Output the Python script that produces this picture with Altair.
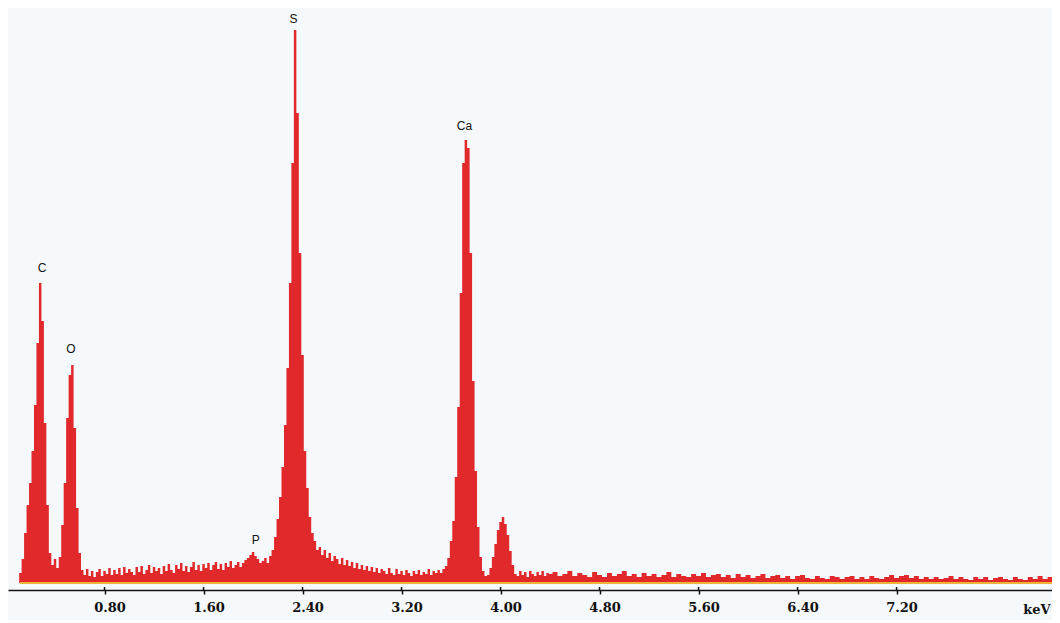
import altair as alt
import pandas as pd

# ---- spectrum data (keV, counts) ----
energy_kev = [
    0.10, 0.12, 0.14, 0.16, 0.18, 0.20, 0.22, 0.24, 0.26, 0.28,
    0.30, 0.32, 0.34, 0.36, 0.38, 0.40, 0.42, 0.44, 0.46, 0.48,
    0.50, 0.52, 0.54, 0.56, 0.58, 0.60, 0.62, 0.64, 0.66, 0.68,
    0.70, 0.72, 0.74, 0.76, 0.78, 0.80, 0.82, 0.84, 0.86, 0.88,
    0.90, 0.92, 0.94, 0.96, 0.98, 1.00, 1.02, 1.04, 1.06, 1.08,
    1.10, 1.12, 1.14, 1.16, 1.18, 1.20, 1.22, 1.24, 1.26, 1.28,
    1.30, 1.32, 1.34, 1.36, 1.38, 1.40, 1.42, 1.44, 1.46, 1.48,
    1.50, 1.52, 1.54, 1.56, 1.58, 1.60, 1.62, 1.64, 1.66, 1.68,
    1.70, 1.72, 1.74, 1.76, 1.78, 1.80, 1.82, 1.84, 1.86, 1.88,
    1.90, 1.92, 1.94, 1.96, 1.98, 2.00, 2.02, 2.04, 2.06, 2.08,
    2.10, 2.12, 2.14, 2.16, 2.18, 2.20, 2.22, 2.24, 2.26, 2.28,
    2.30, 2.32, 2.34, 2.36, 2.38, 2.40, 2.42, 2.44, 2.46, 2.48,
    2.50, 2.52, 2.54, 2.56, 2.58, 2.60, 2.62, 2.64, 2.66, 2.68,
    2.70, 2.72, 2.74, 2.76, 2.78, 2.80, 2.82, 2.84, 2.86, 2.88,
    2.90, 2.92, 2.94, 2.96, 2.98, 3.00, 3.02, 3.04, 3.06, 3.08,
    3.10, 3.12, 3.14, 3.16, 3.18, 3.20, 3.22, 3.24, 3.26, 3.28,
    3.30, 3.32, 3.34, 3.36, 3.38, 3.40, 3.42, 3.44, 3.46, 3.48,
    3.50, 3.52, 3.54, 3.56, 3.58, 3.60, 3.62, 3.64, 3.66, 3.68,
    3.70, 3.72, 3.74, 3.76, 3.78, 3.80, 3.82, 3.84, 3.86, 3.88,
    3.90, 3.92, 3.94, 3.96, 3.98, 4.00, 4.02, 4.04, 4.06, 4.08,
    4.10, 4.12, 4.14, 4.16, 4.18, 4.20, 4.22, 4.24, 4.26, 4.28,
    4.30, 4.32, 4.34, 4.36, 4.38, 4.40,
    4.44, 4.48, 4.52, 4.56, 4.60, 4.64, 4.68, 4.72, 4.76, 4.80,
    4.84, 4.88, 4.92, 4.96, 5.00, 5.04, 5.08, 5.12, 5.16, 5.20,
    5.24, 5.28, 5.32, 5.36, 5.40, 5.44, 5.48, 5.52, 5.56, 5.60,
    5.64, 5.68, 5.72, 5.76, 5.80, 5.84, 5.88, 5.92, 5.96, 6.00,
    6.04, 6.08, 6.12, 6.16, 6.20, 6.24, 6.28, 6.32, 6.36, 6.40,
    6.44, 6.48, 6.52, 6.56, 6.60, 6.64, 6.68, 6.72, 6.76, 6.80,
    6.84, 6.88, 6.92, 6.96, 7.00, 7.04, 7.08, 7.12, 7.16, 7.20,
    7.24, 7.28, 7.32, 7.36, 7.40, 7.44, 7.48, 7.52, 7.56, 7.60,
    7.64, 7.68, 7.72, 7.76, 7.80, 7.84, 7.88, 7.92, 7.96, 8.00,
    8.04, 8.08, 8.12, 8.16, 8.20, 8.24, 8.28, 8.32, 8.36, 8.40,
    8.44, 8.48,
]

counts = [
    0, 10, 24, 50, 78, 100, 132, 178, 240, 300,
    262, 160, 78, 30, 18, 24, 15, 26, 58, 100,
    165, 208, 218, 155, 75, 30, 13, 8, 14, 7,
    12, 6, 11, 14, 7, 12, 9, 15, 8, 13,
    9, 15, 8, 16, 10, 14, 11, 8, 16, 11,
    17, 9, 13, 18, 10, 16, 12, 15, 9, 17,
    12, 19, 13, 10, 18, 14, 20, 12, 17, 11,
    16, 21, 13, 18, 12, 19, 15, 20, 13, 18,
    21, 14, 19, 13, 20, 16, 22, 15, 18, 21,
    16, 20, 23, 25, 28, 31, 27, 24, 20, 22,
    25, 20, 27, 33, 46, 64, 86, 116, 158, 215,
    300, 420, 553, 470, 330, 228, 132, 95, 66, 50,
    42, 33, 36, 28, 33, 25, 30, 22, 27, 24,
    19, 25, 18, 23, 17, 21, 15, 20, 14, 18,
    13, 17, 12, 16, 11, 15, 10, 14, 12, 9,
    15, 10, 8, 14, 9, 12, 8, 13, 10, 7,
    12, 9, 13, 8, 11, 9, 14, 8, 12, 10,
    13, 10, 14, 17, 25, 42, 62, 106, 176, 290,
    420, 443, 435, 330, 202, 112, 56, 26, 12, 7,
    8, 15, 26, 39, 53, 61, 66, 59, 48, 32,
    18, 9, 7, 12, 8, 11, 6, 12, 9, 7,
    11, 8, 12, 7, 10, 9,
    11, 7, 9, 12, 7, 10, 8, 6, 11, 8,
    6, 10, 7, 9, 12, 7, 9, 6, 10, 7,
    9, 6, 8, 11, 6, 9, 7, 6, 9, 7,
    10, 6, 8, 9, 6, 8, 5, 9, 6, 8,
    5, 7, 9, 5, 7, 8, 5, 7, 4, 7,
    8, 5, 4, 7, 5, 4, 7, 6, 4, 6,
    7, 4, 6, 4, 7, 5, 4, 6, 8, 5,
    7, 8, 5, 7, 4, 6, 4, 6, 4, 5,
    7, 4, 6, 4, 3, 6, 4, 6, 3, 5,
    6, 4, 3, 6, 4, 3, 6, 4, 7, 4,
    6, 5,
]

# ---- axis ticks ----
tick_values = [0.80, 1.60, 2.40, 3.20, 4.00, 4.80, 5.60, 6.40, 7.20]

# ---- peak labels ----
peak_names = ["C", "O", "S", "Ca", "P"]
peak_kev = [0.295, 0.529, 2.327, 3.709, 2.022]
peak_label_y = [315, 234, 564, 457, 43]

X_DOMAIN = [0.02, 8.456]
Y_DOMAIN = [-7, 575]

spec = pd.DataFrame({"keV": energy_kev, "counts": counts})
ticks_df = pd.DataFrame({"keV": tick_values})
peaks_df = pd.DataFrame({"name": peak_names, "keV": peak_kev, "y": peak_label_y})

xscale = alt.Scale(domain=X_DOMAIN, nice=False, zero=False)
yscale = alt.Scale(domain=Y_DOMAIN, nice=False, zero=False)

area = alt.Chart(spec).mark_area(
    interpolate="step", color="#e1282b", opacity=1
).encode(
    x=alt.X(
        "keV:Q",
        scale=xscale,
        axis=alt.Axis(
            values=tick_values,
            format=".2f",
            title=None,
            grid=False,
            domain=True,
            domainColor="#111111",
            domainWidth=1.6,
            ticks=True,
            tickColor="#111111",
            tickSize=4,
            tickWidth=1.5,
            labelFont="DejaVu Serif",
            labelFontWeight="bold",
            labelFontSize=13,
            labelColor="#111111",
            labelOffset=5,
            labelPadding=7,
            labelFlush=False,
        ),
    ),
    y=alt.Y("counts:Q", scale=yscale, axis=None),
    y2=alt.datum(0),
)

baseline = alt.Chart(spec).mark_rule(color="#f0b43a", strokeWidth=1.5).encode(
    x=alt.datum(0.12, scale=xscale),
    x2=alt.datum(X_DOMAIN[1]),
    y=alt.datum(0, scale=yscale),
)

tick_tops = alt.Chart(ticks_df).mark_rule(color="#111111", strokeWidth=1.5).encode(
    x=alt.X("keV:Q", scale=xscale),
    y=alt.datum(-7, scale=yscale),
    y2=alt.datum(-4),
)

labels = alt.Chart(peaks_df).mark_text(
    font="Liberation Sans", fontSize=12, color="#111111", baseline="middle", align="center"
).encode(
    x=alt.X("keV:Q", scale=xscale),
    y=alt.Y("y:Q", scale=yscale),
    text="name:N",
)

kev_label = alt.Chart(pd.DataFrame({"t": ["keV"]})).mark_text(
    font="DejaVu Serif", fontWeight="bold", fontSize=13, color="#111111",
    baseline="middle", align="right",
).encode(
    x=alt.datum(8.445, scale=xscale),
    y=alt.datum(-27, scale=yscale),
    text="t:N",
)

chart = alt.layer(area, baseline, tick_tops, labels, kev_label).properties(
    width=1044,
    height=582,
    background="#f6f9fc",
    padding={"left": 0, "top": 0, "right": 0, "bottom": 30},
    autosize=alt.AutoSizeParams(type="none"),
).configure_view(stroke=None)

chart.save("out.html", embed_options={"renderer": "svg", "actions": False})
